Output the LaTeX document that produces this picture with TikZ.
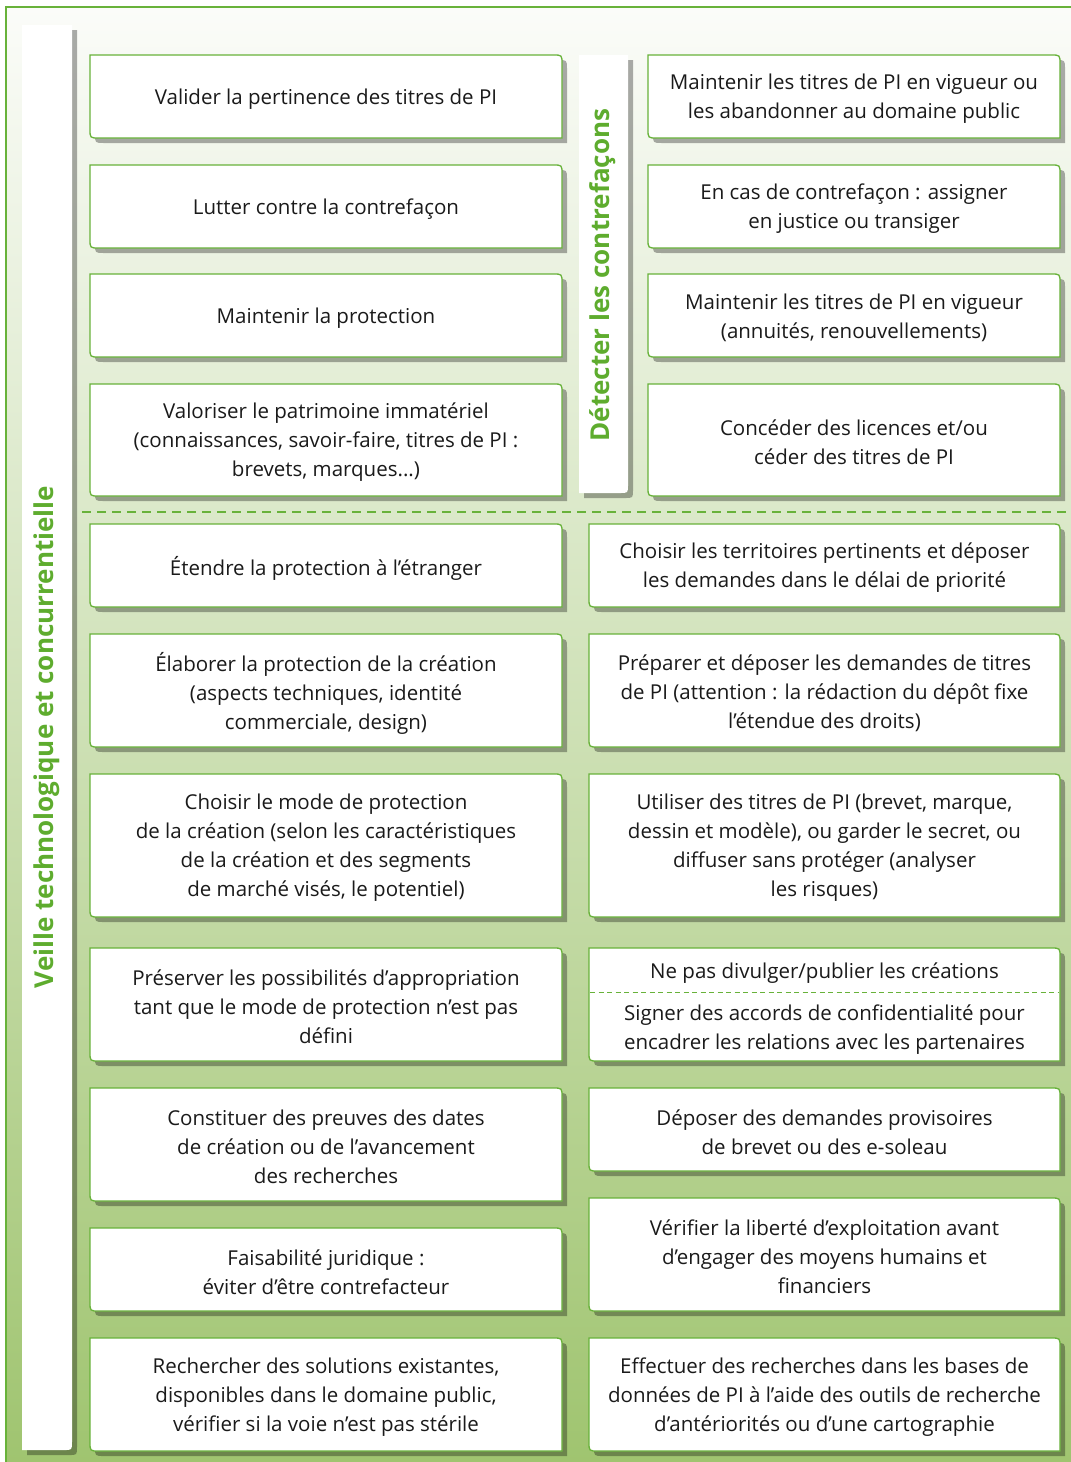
\documentclass[tikz,border=0pt]{standalone}
\usepackage{fontspec}
\setmainfont{Open Sans}
\definecolor{pigreen}{HTML}{68B23A}
\definecolor{labgreen}{HTML}{5EAC2E}
\definecolor{txt}{HTML}{1A1A1A}
\definecolor{bgtop}{HTML}{FBFCF9}
\definecolor{bgmid}{HTML}{D3E5BE}
\definecolor{bgbot}{HTML}{9FC46F}
\tikzset{
  boxline/.style={draw=pigreen, line width=1.3pt, fill=white},
  boxshadow/.style={fill=black, fill opacity=0.32},
  boxtext/.style={align=center, text=txt, font=\fontsize{20.5}{29}\selectfont, inner sep=0pt, yshift=-2.5pt},
  barfill/.style={fill=white},
  vlabel/.style={rotate=90, text=labgreen, font=\bfseries\fontsize{26}{30}\selectfont, inner sep=0pt},
}
% #1 x1, #2 y1, #3 x2, #4 y2
\newcommand\pishape[5][]{%
  \path[#1] (#2,#3) -- ({#4-9},#3) .. controls (#4,#3) .. (#4,{#3+9}) -- (#4,#5) -- ({#2+9},#5) .. controls (#2,#5) .. (#2,{#5-9}) -- cycle;}
\newcommand\pibox[6]{%
  \pishape[boxshadow, shift={(5,5)}]{#1}{#2}{#3}{#4}
  \pishape[boxline]{#1}{#2}{#3}{#4}
  \node[boxtext] (#5) at ({(#1+#3)/2},{(#2+#4)/2}) {#6};}
\newcommand\pibar[4]{%
  \path[boxshadow, shift={(5,5)}] (#1,#2) -- (#3,#2) -- (#3,{#4-8}) .. controls (#3,#4) .. ({#3-8},#4) -- (#1,#4) -- cycle;
  \path[barfill] (#1,#2) -- (#3,#2) -- (#3,{#4-8}) .. controls (#3,#4) .. ({#3-8},#4) -- (#1,#4) -- cycle;}
\begin{document}
\begin{tikzpicture}[x=1pt,y=-1pt]
\useasboundingbox (0,0) rectangle (1071,1462);
% background
\shade[top color=bgtop, middle color=bgmid, bottom color=bgbot] (6,7) rectangle (1078,1470);
\draw[pigreen, line width=1.3pt] (6,7) rectangle (1078,1470);
% vertical bars
\pibar{22}{25}{72}{1450}
\node[vlabel] (veille) at (47,737) {Veille technologique et concurrentielle};
\pibar{579}{55}{628}{493}
\node[vlabel] (detecter) at (603,275) {Détecter les contrefaçons};
% dashed separator
\coordinate (sepL) at (82,512);
\coordinate (sepR) at (1068,512);
\draw[pigreen, line width=2.8pt, dash pattern=on 9pt off 6pt] (sepL) -- (sepR);
% upper rows
\pibox{90}{55}{562}{138}{l1}{Valider la pertinence des titres de PI}
\pibox{648}{55}{1060}{138}{r1}{Maintenir les titres de PI en vigueur ou\\les abandonner au domaine public}
\pibox{90}{165}{562}{248}{l2}{Lutter contre la contrefaçon}
\pibox{648}{165}{1060}{248}{r2}{En cas de contrefaçon : assigner\\en justice ou transiger}
\pibox{90}{274}{562}{357}{l3}{Maintenir la protection}
\pibox{648}{274}{1060}{357}{r3}{Maintenir les titres de PI en vigueur\\(annuités, renouvellements)}
\pibox{90}{384}{562}{496}{l4}{Valoriser le patrimoine immatériel\\(connaissances, savoir-faire, titres de PI :\\brevets, marques...)}
\pibox{648}{384}{1060}{496}{r4}{Concéder des licences et/ou\\céder des titres de PI}
% lower rows
\pibox{90}{524}{562}{607}{l5}{Étendre la protection à l’étranger}
\pibox{589}{524}{1060}{607}{r5}{Choisir les territoires pertinents et déposer\\les demandes dans le délai de priorité}
\pibox{90}{634}{562}{747}{l6}{Élaborer la protection de la création\\(aspects techniques, identité\\commerciale, design)}
\pibox{589}{634}{1060}{747}{r6}{Préparer et déposer les demandes de titres\\de PI (attention : la rédaction du dépôt fixe\\l’étendue des droits)}
\pibox{90}{774}{562}{917}{l7}{Choisir le mode de protection\\de la création (selon les caractéristiques\\de la création et des segments\\de marché visés, le potentiel)}
\pibox{589}{774}{1060}{917}{r7}{Utiliser des titres de PI (brevet, marque,\\dessin et modèle), ou garder le secret, ou\\diffuser sans protéger (analyser\\les risques)}
\pibox{90}{948}{562}{1061}{l8}{Préserver les possibilités d’appropriation\\tant que le mode de protection n’est pas\\défini}
% right box of row 8, split in two
\pishape[boxshadow, shift={(5,5)}]{589}{948}{1060}{1061}
\pishape[boxline]{589}{948}{1060}{1061}
\coordinate (r8sepL) at (590,992);
\coordinate (r8sepR) at (1059,992);
\draw[pigreen, line width=0.9pt, dash pattern=on 5pt off 3.5pt] (r8sepL) -- (r8sepR);
\node[boxtext] (r8a) at (824.5,971) {Ne pas divulger/publier les créations};
\node[boxtext] (r8b) at (824.5,1027) {Signer des accords de confidentialité pour\\encadrer les relations avec les partenaires};
\pibox{90}{1088}{562}{1201}{l9}{Constituer des preuves des dates\\de création ou de l’avancement\\des recherches}
\pibox{589}{1088}{1060}{1171}{r9}{Déposer des demandes provisoires\\de brevet ou des e-soleau}
\pibox{90}{1228}{562}{1311}{l10}{Faisabilité juridique :\\éviter d’être contrefacteur}
\pibox{589}{1198}{1060}{1311}{r10}{Vérifier la liberté d’exploitation avant\\d’engager des moyens humains et\\financiers}
\pibox{90}{1338}{562}{1451}{l11}{Rechercher des solutions existantes,\\disponibles dans le domaine public,\\vérifier si la voie n’est pas stérile}
\pibox{589}{1338}{1060}{1451}{r11}{Effectuer des recherches dans les bases de\\données de PI à l’aide des outils de recherche\\d’antériorités ou d’une cartographie}
\end{tikzpicture}
\end{document}
